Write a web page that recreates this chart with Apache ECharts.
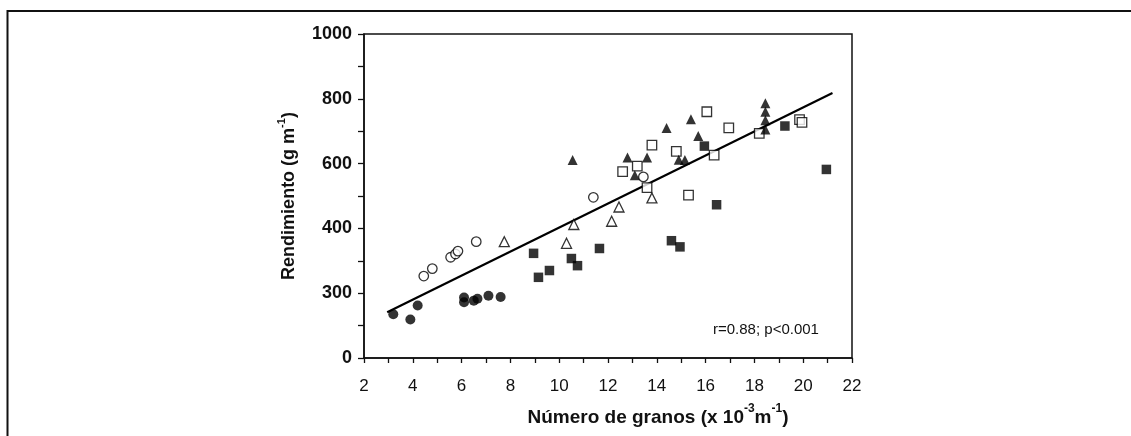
<!DOCTYPE html>
<html>
<head>
<meta charset="utf-8">
<script src="https://cdn.jsdelivr.net/npm/echarts@6/dist/echarts.min.js"></script>
<style>
html,body{margin:0;padding:0;background:#fff;}
#c{width:1131px;height:436px;}
</style>
</head>
<body>
<div id="c"></div>
<script>
// ---- data (x: Número de granos, y: Rendimiento, in axis units) ----
const filledCircles = [[3.2,135],[3.9,119],[4.2,162],[6.1,187],[6.1,172],[6.5,177],[6.65,183],[7.1,192],[7.6,188]];
const openCircles = [[4.45,253],[4.8,276],[5.55,311],[5.75,321],[5.85,330],[6.6,359],[11.4,496],[13.45,559]];
const openTriangles = [[7.75,359],[10.3,354],[10.6,412],[12.15,422],[12.45,466],[13.8,494]];
const filledSquares = [[8.95,323],[9.15,249],[9.6,270],[10.5,307],[10.75,285],[11.65,338],[14.6,362],[14.95,343],[15.95,654],[16.45,473],[19.25,716],[20.95,582]];
const openSquares = [[12.6,575],[13.2,592],[13.6,526],[13.8,657],[14.8,638],[15.3,503],[16.05,760],[16.35,626],[16.95,710],[18.2,693],[19.85,736],[19.95,727]];
const filledTriangles = [[10.55,611],[12.8,619],[13.1,564],[13.6,619],[14.4,710],[14.9,612],[15.15,611],[15.4,737],[15.7,685],[18.45,786],[18.45,760],[18.45,734],[18.45,705]];
const regressionLine = [[2.95,141],[21.2,818]];
const yTickValues = [0,200,400,600,800,1000];
const yTickLabels = ["0","300","400","600","800","1000"];
const xTickLabels = ["2","4","6","8","10","12","14","16","18","20","22"];
const annotation = "r=0.88; p<0.001";

const INK = '#000';
const FONT = '"Liberation Sans", Arial, sans-serif';

function scatter(data, symbol, filled, size) {
  return {
    type: 'scatter',
    data: data,
    symbol: symbol,
    symbolSize: size,
    itemStyle: filled ? {color: INK, borderColor: INK, borderWidth: 0}
                      : {color: '#fff', borderColor: INK, borderWidth: 1.3},
    z: filled ? 4 : 3
  };
}

const chart = echarts.init(document.getElementById('c'), null, {renderer: 'canvas'});
chart.setOption({
  animation: false,
  backgroundColor: '#fff',
  grid: {left: 364, right: 279, top: 34, bottom: 78, show: true, borderColor: '#111', borderWidth: 1.5, backgroundColor: 'transparent'},
  xAxis: {
    type: 'value', min: 2, max: 22, interval: 1,
    axisLine: {show: true, lineStyle: {color: '#111', width: 1.5}},
    axisTick: {show: true, inside: false, length: 5, lineStyle: {color: '#111', width: 1.3}},
    splitLine: {show: false},
    axisLabel: {
      margin: 20, color: '#111', fontFamily: FONT, fontSize: 17,
      formatter: v => { const s = String(v); return xTickLabels.indexOf(s) >= 0 ? s : ''; }
    },
    name: '{b|Número de granos (x 10}{s|-3}{b|m}{s|-1}{b|)}',
    nameLocation: 'middle', nameGap: 45,
    nameTextStyle: {
      padding: [0, 0, 0, 100],
      rich: {
        b: {fontFamily: FONT, fontWeight: 'bold', fontSize: 19, color: '#111', lineHeight: 24, verticalAlign: 'bottom'},
        s: {fontFamily: FONT, fontWeight: 'bold', fontSize: 12, color: '#111', lineHeight: 24, verticalAlign: 'top'}
      }
    }
  },
  yAxis: {
    type: 'value', min: 0, max: 1000, interval: 100,
    axisLine: {show: true, lineStyle: {color: '#111', width: 1.5}},
    axisTick: {show: true, inside: false, length: 6, lineStyle: {color: '#111', width: 1.3}},
    splitLine: {show: false},
    axisLabel: {
      margin: 12, color: '#111', fontFamily: FONT, fontSize: 18, fontWeight: 'bold',
      formatter: v => { const i = yTickValues.indexOf(v); return i >= 0 ? yTickLabels[i] : ''; }
    },
    name: '{b|Rendimiento (g m}{s|-1}{b|)}',
    nameLocation: 'middle', nameGap: 66, nameRotate: 90,
    nameTextStyle: {
      rich: {
        b: {fontFamily: FONT, fontWeight: 'bold', fontSize: 18, color: '#111', lineHeight: 22, verticalAlign: 'bottom'},
        s: {fontFamily: FONT, fontWeight: 'bold', fontSize: 11, color: '#111', lineHeight: 22, verticalAlign: 'top'}
      }
    }
  },
  series: [
    {
      type: 'line', data: regressionLine, showSymbol: false, symbol: 'none',
      lineStyle: {color: INK, width: 2.2}, z: 2, silent: true
    },
    scatter(filledCircles, 'circle', true, 10),
    scatter(openCircles, 'circle', false, 9.5),
    scatter(openTriangles, 'triangle', false, 10),
    scatter(filledSquares, 'rect', true, 9.5),
    scatter(openSquares, 'rect', false, 9.5),
    scatter(filledTriangles, 'triangle', true, 10)
  ],
  graphic: [
    {type: 'line', shape: {x1: 7.5, y1: 11, x2: 1131, y2: 11}, style: {stroke: '#111', lineWidth: 2}},
    {type: 'line', shape: {x1: 7.5, y1: 10, x2: 7.5, y2: 436}, style: {stroke: '#111', lineWidth: 2}},
    {type: 'text', left: 713, top: 322, style: {text: annotation, font: '15px "Liberation Sans", Arial, sans-serif', fill: '#111'}}
  ]
});
</script>
</body>
</html>
